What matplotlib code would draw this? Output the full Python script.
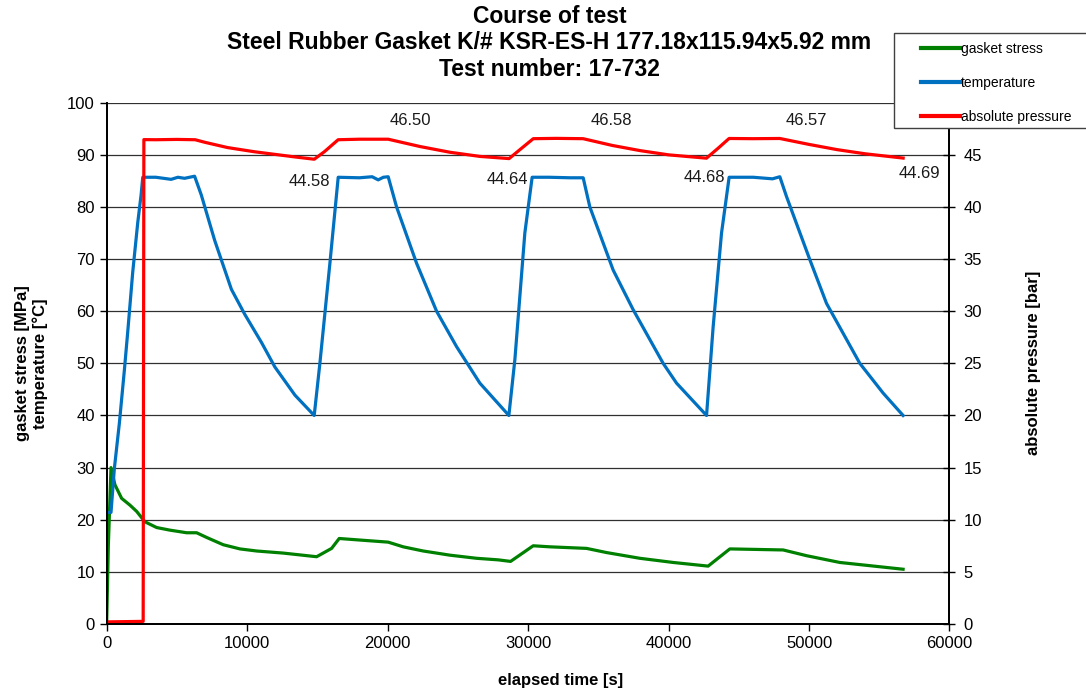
import matplotlib
matplotlib.use('Agg')
import matplotlib.pyplot as plt
from matplotlib.patches import Rectangle
from matplotlib.lines import Line2D

plt.rcParams['font.family'] = ['Liberation Sans', 'DejaVu Sans']

# gasket stress [MPa]
stress_t = [0, 120, 310, 591, 1067, 1658, 2135, 2726, 3559, 4505, 5694, 6406, 7117, 8300, 9488,
            10676, 12570, 14947, 16014, 16556, 18028, 20043, 21110, 22534, 24434, 26335, 27872,
            28754, 30365, 31552, 34164, 35587, 37957, 40327, 42818, 44363, 48157, 49822, 52192, 56697]
stress_v = [0, 15, 30, 26.7, 24.1, 22.8, 21.6, 19.6, 18.5, 18.0, 17.5, 17.5, 16.6, 15.2, 14.4,
            14.0, 13.6, 12.9, 14.5, 16.4, 16.1, 15.7, 14.8, 14.0, 13.2, 12.6, 12.3,
            12.0, 15.0, 14.8, 14.5, 13.7, 12.6, 11.8, 11.1, 14.4, 14.2, 13.1, 11.8, 10.5]

# temperature [°C]
temp_t = [0, 310, 548, 905, 1262, 1500, 1857, 2214, 2452, 2571, 3500, 4590, 5070, 5545, 6262,
          6738, 7690, 8881, 9833, 11024, 11976, 13405, 14776,
          15180, 15893, 16484, 18000, 18900, 19330, 19700, 20043,
          20640, 22064, 23488, 24911, 26569, 28633,
          29060, 29770, 30290, 31500, 33000, 33923,
          34398, 36057, 37480, 39616, 40570, 42705,
          43175, 43772, 44313, 46030, 47400, 47922,
          48398, 50057, 51246, 53616, 55274, 56697]
temp_v = [21.4, 21.4, 29.8, 38.5, 48.7, 56.0, 67.5, 77.0, 82.3, 85.7, 85.7, 85.3, 85.7, 85.5, 85.9,
          82.3, 73.6, 64.2, 59.4, 54.0, 49.3, 43.9, 40.0,
          50.0, 69.2, 85.7, 85.6, 85.8, 85.2, 85.7, 85.8,
          80.0, 69.2, 60.0, 53.2, 46.2, 40.0,
          50.7, 75.0, 85.7, 85.7, 85.6, 85.6,
          80.0, 67.9, 60.3, 50.0, 46.2, 40.0,
          57.0, 75.0, 85.7, 85.7, 85.4, 85.8,
          82.0, 69.9, 61.5, 50.0, 44.3, 40.0]

# absolute pressure [bar]
press_t = [0, 2600, 2650, 3500, 5000, 6300, 7000, 8600, 10500, 13400, 14780, 15500, 16480, 18000,
           20040, 22300, 24430, 26570, 28650, 29420, 30370, 32000, 33920, 36000, 38000, 40000,
           42700, 43500, 44310, 46000, 47920, 50000, 52000, 54000, 56700]
press_v = [0.2, 0.25, 46.46, 46.45, 46.48, 46.45, 46.2, 45.7, 45.3, 44.8, 44.58, 45.3, 46.45, 46.5,
           46.5, 45.8, 45.25, 44.85, 44.64, 45.5, 46.55, 46.58, 46.55, 45.9, 45.4, 45.0,
           44.68, 45.6, 46.57, 46.55, 46.57, 46.0, 45.5, 45.1, 44.69]

# pressure data labels
label_text = ['44.58', '46.50', '44.64', '46.58', '44.68', '46.57', '44.69']
label_t = [14400, 21600, 28510, 35940, 42560, 49840, 57890]
label_p = [42.45, 48.3, 42.65, 48.25, 42.85, 48.25, 43.25]

green = '#008000'
blue = '#0070C0'
red = '#FF0000'

fig = plt.figure(figsize=(10.86, 6.95), dpi=100)
ax = fig.add_axes([0.0982, 0.1022, 0.7761, 0.7500])
ax2 = ax.twinx()

ax.plot(stress_t, stress_v, color=green, lw=2.3, label='gasket stress')
ax.plot(temp_t, temp_v, color=blue, lw=2.3, label='temperature')
ax2.plot(press_t, press_v, color=red, lw=2.3, label='absolute pressure')

for txt, t, p in zip(label_text, label_t, label_p):
    ax2.text(t, p, txt, ha='center', va='center', fontsize=12, color='#1a1a1a')

ax.set_xlim(0, 60000)
ax.set_ylim(0, 100)
ax2.set_ylim(0, 50)
ax.set_xticks(range(0, 60001, 10000))
ax.set_yticks(range(0, 101, 10))
ax2.set_yticks(range(0, 50, 5))

ax.yaxis.grid(True, color='#303030', lw=0.9)
ax.set_axisbelow(True)

for a in (ax, ax2):
    a.spines['top'].set_visible(False)
    for s in ('left', 'right', 'bottom'):
        a.spines[s].set_color('black')
        a.spines[s].set_linewidth(1.3)

ax.tick_params(axis='both', labelsize=12, length=5, width=1, direction='out', colors='black')
ax2.tick_params(axis='y', labelsize=12, length=8, width=1, direction='inout', colors='black', pad=6)

ax.set_xlabel('elapsed time [s]', fontsize=12, fontweight='bold')
ax.xaxis.set_label_coords(0.538, -0.095)
ax.set_ylabel('gasket stress [MPa]\ntemperature [°C]', fontsize=12, fontweight='bold', labelpad=14)
ax2.set_ylabel('absolute pressure [bar]', fontsize=12, fontweight='bold', labelpad=32)

fig.text(0.506, 0.993, 'Course of test\nSteel Rubber Gasket K/# KSR-ES-H 177.18x115.94x5.92 mm\nTest number: 17-732',
         ha='center', va='top', fontsize=16.5, fontweight='bold', linespacing=1.2)

# legend box (partly cut by the figure edge, like the original)
fig.patches.append(Rectangle((894 / 1086, 1 - 128 / 695), 200 / 1086, 95 / 695,
                             transform=fig.transFigure, facecolor='white', edgecolor='#404040',
                             lw=1, zorder=4))
handles = [Line2D([], [], color=green, lw=3), Line2D([], [], color=blue, lw=3),
           Line2D([], [], color=red, lw=3)]
fig.legend(handles, ['gasket stress', 'temperature', 'absolute pressure'],
           loc='upper left', bbox_to_anchor=(918 / 1086, 1 - 39 / 695), frameon=False,
           fontsize=10, handlelength=2.8, handletextpad=0.1, labelspacing=1.45,
           borderaxespad=0, borderpad=0.2)

plt.savefig('out.png', dpi=100)
plt.close()
